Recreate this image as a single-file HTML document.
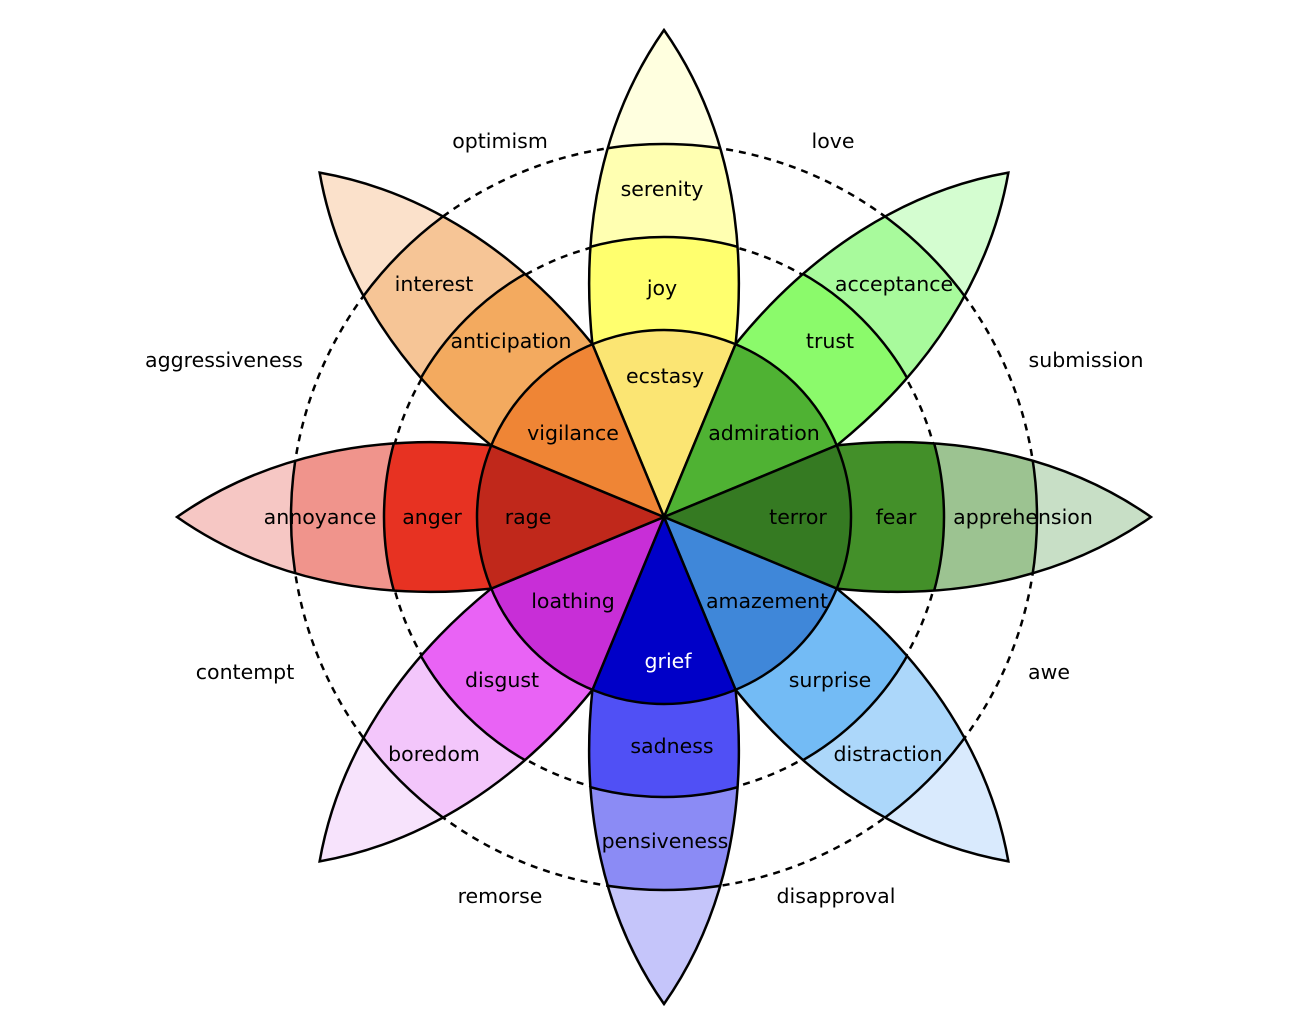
<!DOCTYPE html>
<html><head><meta charset="utf-8"><style>
html,body{margin:0;padding:0;background:#fff;overflow:hidden;width:1307px;height:1031px;}
svg{display:block;}
text{font-family:"DejaVu Sans","Liberation Sans",sans-serif;font-size:20.5px;text-anchor:middle;dominant-baseline:central;fill:#000;}
</style></head><body>
<svg width="1307" height="1031" viewBox="0 0 1307 1031" xmlns="http://www.w3.org/2000/svg">
<defs>
<path id="pp" d="M0,0 L71.6,-172.8 C84,-290 61,-400 0,-487 C-61,-400 -84,-290 -71.6,-172.8 Z"/>
<clipPath id="c373"><circle cx="0" cy="0" r="373"/></clipPath>
<clipPath id="c280"><circle cx="0" cy="0" r="280"/></clipPath>
<clipPath id="c187"><circle cx="0" cy="0" r="187"/></clipPath>
<clipPath id="pet"><use href="#pp"/></clipPath>
</defs>
<circle cx="664" cy="517" r="373" fill="none" stroke="#000" stroke-width="2.5" stroke-dasharray="7,6"/>
<circle cx="664" cy="517" r="279" fill="none" stroke="#000" stroke-width="2.5" stroke-dasharray="7,6"/>

<g transform="translate(664,517) rotate(0)">
<use href="#pp" fill="#ffffdf"/><use href="#pp" fill="#ffffb1" clip-path="url(#c373)"/><use href="#pp" fill="#ffff6e" clip-path="url(#c280)"/><use href="#pp" fill="#fbe573" clip-path="url(#c187)"/>
<g clip-path="url(#pet)" fill="none" stroke="#000" stroke-width="2.5"><circle r="280"/><circle r="373"/></g>
<use href="#pp" fill="none" stroke="#000" stroke-width="2.5"/></g>
<g transform="translate(664,517) rotate(45)">
<use href="#pp" fill="#d4fdd0"/><use href="#pp" fill="#a8fa9c" clip-path="url(#c373)"/><use href="#pp" fill="#8bfa6b" clip-path="url(#c280)"/><use href="#pp" fill="#4fb233" clip-path="url(#c187)"/>
<g clip-path="url(#pet)" fill="none" stroke="#000" stroke-width="2.5"><circle r="280"/><circle r="373"/></g>
<use href="#pp" fill="none" stroke="#000" stroke-width="2.5"/></g>
<g transform="translate(664,517) rotate(90)">
<use href="#pp" fill="#c8dfc6"/><use href="#pp" fill="#9cc391" clip-path="url(#c373)"/><use href="#pp" fill="#439029" clip-path="url(#c280)"/><use href="#pp" fill="#357a22" clip-path="url(#c187)"/>
<g clip-path="url(#pet)" fill="none" stroke="#000" stroke-width="2.5"><circle r="280"/><circle r="373"/></g>
<use href="#pp" fill="none" stroke="#000" stroke-width="2.5"/></g>
<g transform="translate(664,517) rotate(135)">
<use href="#pp" fill="#d9eafd"/><use href="#pp" fill="#acd7fa" clip-path="url(#c373)"/><use href="#pp" fill="#73bbf5" clip-path="url(#c280)"/><use href="#pp" fill="#3f87d9" clip-path="url(#c187)"/>
<g clip-path="url(#pet)" fill="none" stroke="#000" stroke-width="2.5"><circle r="280"/><circle r="373"/></g>
<use href="#pp" fill="none" stroke="#000" stroke-width="2.5"/></g>
<g transform="translate(664,517) rotate(180)">
<use href="#pp" fill="#c5c5fa"/><use href="#pp" fill="#8b8bf5" clip-path="url(#c373)"/><use href="#pp" fill="#5050f5" clip-path="url(#c280)"/><use href="#pp" fill="#0000c8" clip-path="url(#c187)"/>
<g clip-path="url(#pet)" fill="none" stroke="#000" stroke-width="2.5"><circle r="280"/><circle r="373"/></g>
<use href="#pp" fill="none" stroke="#000" stroke-width="2.5"/></g>
<g transform="translate(664,517) rotate(225)">
<use href="#pp" fill="#f7e3fc"/><use href="#pp" fill="#f3c6fb" clip-path="url(#c373)"/><use href="#pp" fill="#e963f5" clip-path="url(#c280)"/><use href="#pp" fill="#c82ed7" clip-path="url(#c187)"/>
<g clip-path="url(#pet)" fill="none" stroke="#000" stroke-width="2.5"><circle r="280"/><circle r="373"/></g>
<use href="#pp" fill="none" stroke="#000" stroke-width="2.5"/></g>
<g transform="translate(664,517) rotate(270)">
<use href="#pp" fill="#f6c7c4"/><use href="#pp" fill="#f0948c" clip-path="url(#c373)"/><use href="#pp" fill="#e73222" clip-path="url(#c280)"/><use href="#pp" fill="#c0281b" clip-path="url(#c187)"/>
<g clip-path="url(#pet)" fill="none" stroke="#000" stroke-width="2.5"><circle r="280"/><circle r="373"/></g>
<use href="#pp" fill="none" stroke="#000" stroke-width="2.5"/></g>
<g transform="translate(664,517) rotate(315)">
<use href="#pp" fill="#fbe1cb"/><use href="#pp" fill="#f6c596" clip-path="url(#c373)"/><use href="#pp" fill="#f3aa5f" clip-path="url(#c280)"/><use href="#pp" fill="#ef8535" clip-path="url(#c187)"/>
<g clip-path="url(#pet)" fill="none" stroke="#000" stroke-width="2.5"><circle r="280"/><circle r="373"/></g>
<use href="#pp" fill="none" stroke="#000" stroke-width="2.5"/></g>
<circle cx="664" cy="517" r="187" fill="none" stroke="#000" stroke-width="2.5"/>

<text x="662" y="189">serenity</text>
<text x="662" y="288">joy</text>
<text x="665" y="376">ecstasy</text>
<text x="894" y="284">acceptance</text>
<text x="830" y="341">trust</text>
<text x="764" y="433">admiration</text>
<text x="1023" y="517">apprehension</text>
<text x="896" y="517">fear</text>
<text x="798" y="517">terror</text>
<text x="888" y="754">distraction</text>
<text x="830" y="680">surprise</text>
<text x="767" y="601">amazement</text>
<text x="665" y="841">pensiveness</text>
<text x="672" y="746">sadness</text>
<text x="668" y="661" style="fill:#fff">grief</text>
<text x="434" y="754">boredom</text>
<text x="502" y="680">disgust</text>
<text x="573" y="601">loathing</text>
<text x="320" y="517">annoyance</text>
<text x="432" y="517">anger</text>
<text x="528" y="517">rage</text>
<text x="434" y="284">interest</text>
<text x="511" y="341">anticipation</text>
<text x="573" y="433">vigilance</text>

<text x="500" y="141">optimism</text>
<text x="833" y="141">love</text>
<text x="224" y="360">aggressiveness</text>
<text x="1086" y="360">submission</text>
<text x="245" y="672">contempt</text>
<text x="1049" y="672">awe</text>
<text x="500" y="896">remorse</text>
<text x="836" y="896">disapproval</text>
</svg>
</body></html>
